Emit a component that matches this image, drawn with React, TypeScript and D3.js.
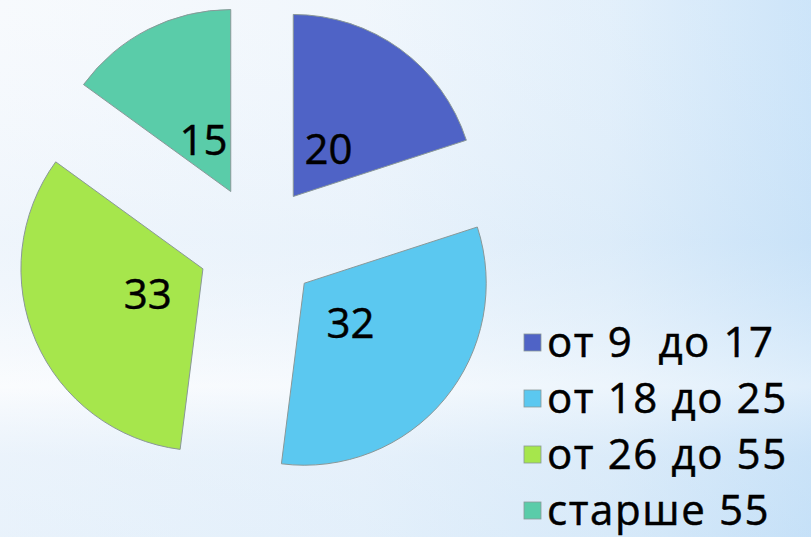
import React from "react";
import * as d3 from "d3";

const categories = ["от 9  до 17", "от 18 до 25", "от 26 до 55", "старше 55"];
const values = [20, 32, 33, 15];
const colors = ["#4f63c6", "#5bc8f0", "#a6e64c", "#5acca9"];

const W = 811;
const H = 537;
const CX = 258;
const CY = 245;
const R = 182;
const EXPLODE = 60;
const LABEL_R = 120;

export default function App() {
  const pie = d3.pie<number>().sort(null).value((d) => d)(values);
  const arc = d3.arc<d3.PieArcDatum<number>>().innerRadius(0).outerRadius(R);
  const font = "'Open Sans', 'Noto Sans', sans-serif";
  const legendY = d3.scalePoint<number>().domain(d3.range(categories.length)).range([357, 525]);

  return (
    <svg
      width={W}
      height={H}
      style={{ position: "absolute", left: 0, top: 0, display: "block" }}
    >
      <defs>
        <linearGradient id="bgH" x1="0" y1="0" x2="1" y2="0">
          <stop offset="0" stopColor="#f6f9fd" />
          <stop offset="0.45" stopColor="#eef5fc" />
          <stop offset="0.75" stopColor="#deedfa" />
          <stop offset="1" stopColor="#c4e0f8" />
        </linearGradient>
        <linearGradient id="bgV" x1="0" y1="0" x2="0" y2="1">
          <stop offset="0" stopColor="#ffffff" stopOpacity="0.15" />
          <stop offset="0.45" stopColor="#d8e9f8" stopOpacity="0.25" />
          <stop offset="0.72" stopColor="#ffffff" stopOpacity="0.45" />
          <stop offset="0.85" stopColor="#d6e8f8" stopOpacity="0.35" />
          <stop offset="1" stopColor="#c9e2f7" stopOpacity="0.3" />
        </linearGradient>
      </defs>
      <rect x={0} y={0} width={W} height={H} fill="url(#bgH)" />
      <rect x={0} y={0} width={W} height={H} fill="url(#bgV)" />
      <g transform={`translate(${CX},${CY})`}>
        {pie.map((d, i) => {
          const mid = (d.startAngle + d.endAngle) / 2;
          const dx = Math.sin(mid) * EXPLODE;
          const dy = -Math.cos(mid) * EXPLODE;
          return (
            <path
              key={i}
              d={arc(d) || ""}
              transform={`translate(${dx},${dy})`}
              fill={colors[i]}
              stroke="#8a9898"
              strokeWidth={1}
            />
          );
        })}
        {pie.map((d, i) => {
          const mid = (d.startAngle + d.endAngle) / 2;
          return (
            <text
              key={"l" + i}
              x={Math.sin(mid) * LABEL_R}
              y={-Math.cos(mid) * LABEL_R}
              textAnchor="middle"
              dominantBaseline="central"
              fontFamily={font}
              fontSize={42}
              fill="#000"
              stroke="#000"
              strokeWidth={0.5}
            >
              {d.data}
            </text>
          );
        })}
      </g>
      <g>
        {categories.map((c, i) => {
          const y = legendY(i) as number;
          return (
            <g key={"g" + i}>
              <rect
                x={524}
                y={y - 23}
                width={17}
                height={17}
                fill={colors[i]}
                stroke="#8a9898"
                strokeWidth={0.8}
              />
              <text
                x={547}
                y={y}
                fontFamily={font}
                fontSize={42}
                letterSpacing={1.6}
                fill="#000"
                stroke="#000"
                strokeWidth={0.5}
                style={{ whiteSpace: "pre" }}
              >
                {c}
              </text>
            </g>
          );
        })}
      </g>
    </svg>
  );
}
